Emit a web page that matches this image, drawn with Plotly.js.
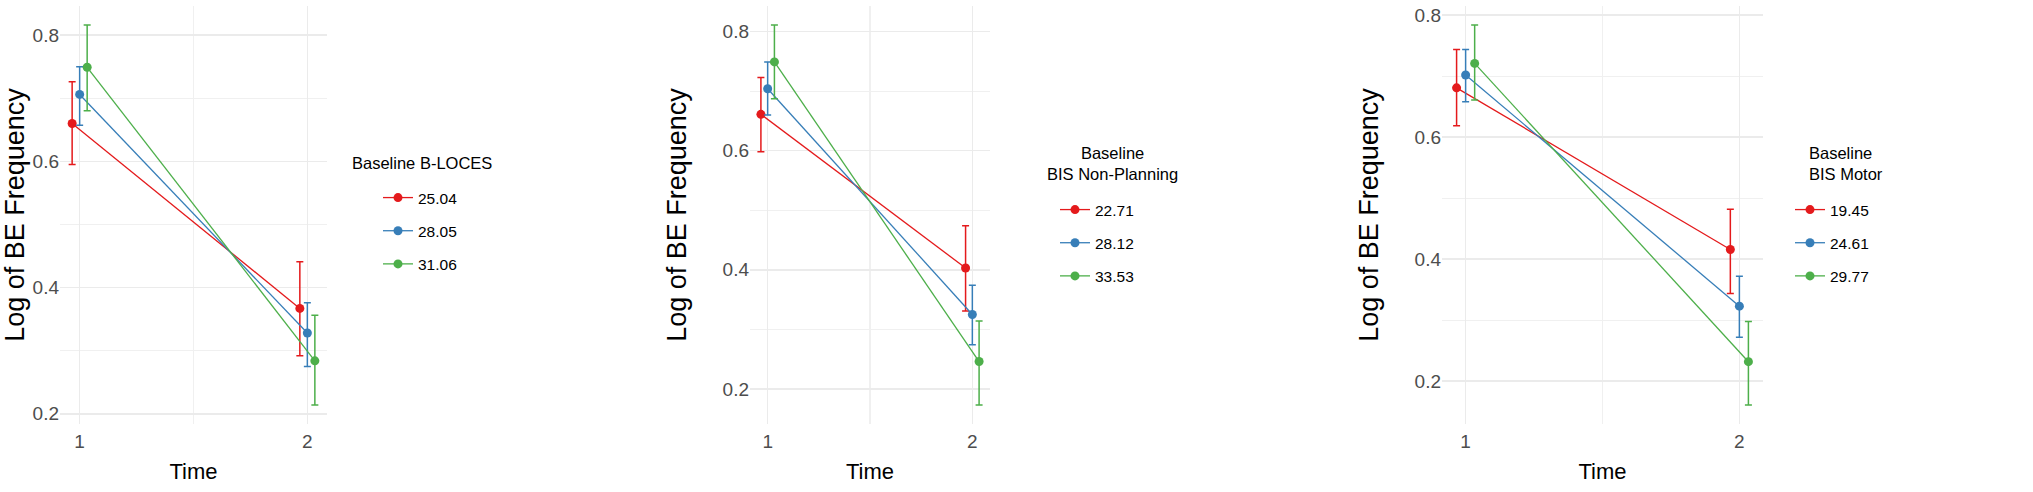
<!DOCTYPE html>
<html>
<head>
<meta charset="utf-8">
<script src="https://cdn.plot.ly/plotly-3.0.1.min.js"></script>
<style>html,body{margin:0;padding:0;background:#fff;}#chart{width:2033px;height:492px;}</style>
</head>
<body>
<div id="chart"></div>
<script>
// ---- data ----
const times = [1, 2];
const seriesColors = ["#E41A1C", "#377EB8", "#4DAF4A"];

const p1Title = "Baseline B-LOCES";
const p1Levels = ["25.04", "28.05", "31.06"];
const p1Mean  = [[0.660, 0.367], [0.706, 0.328], [0.749, 0.284]];
const p1Upper = [[0.726, 0.441], [0.750, 0.376], [0.816, 0.356]];
const p1Lower = [[0.595, 0.292], [0.657, 0.275], [0.680, 0.214]];

const p2Title = "Baseline<br>BIS Non-Planning";
const p2Levels = ["22.71", "28.12", "33.53"];
const p2Mean  = [[0.661, 0.403], [0.704, 0.325], [0.749, 0.246]];
const p2Upper = [[0.723, 0.474], [0.749, 0.374], [0.811, 0.314]];
const p2Lower = [[0.598, 0.331], [0.660, 0.274], [0.687, 0.173]];

const p3Title = "Baseline<br>BIS Motor";
const p3Levels = ["19.45", "24.61", "29.77"];
const p3Mean  = [[0.681, 0.416], [0.702, 0.323], [0.721, 0.232]];
const p3Upper = [[0.744, 0.482], [0.744, 0.372], [0.784, 0.298]];
const p3Lower = [[0.619, 0.344], [0.658, 0.272], [0.661, 0.161]];

const tickVals = [0.2, 0.4, 0.6, 0.8];
const xTicks = [1, 2];
const yTitle = "Log of BE Frequency";
const xTitle = "Time";

// ---- build ----
const W = 2033, H = 492;
const FONT = "Liberation Sans, Arial, sans-serif";
const dodge = [-0.033, 0, 0.033];

const panels = [
  {title: p1Title, levels: p1Levels, mean: p1Mean, up: p1Upper, lo: p1Lower, px: [60, 327], legX: 378, titleX: 350, titleAnchor: "left", titleY: 163, legY: 181},
  {title: p2Title, levels: p2Levels, mean: p2Mean, up: p2Upper, lo: p2Lower, px: [750, 990], legX: 1055, titleX: 1112, titleAnchor: "center", titleY: 163, legY: 193},
  {title: p3Title, levels: p3Levels, mean: p3Mean, up: p3Upper, lo: p3Lower, px: [1442, 1763], legX: 1790, titleX: 1807, titleAnchor: "left", titleY: 163, legY: 193}
];

const traces = [];
const layout = {
  width: W, height: H,
  margin: {l: 0, r: 0, t: 0, b: 0},
  paper_bgcolor: "#fff", plot_bgcolor: "#fff",
  showlegend: true,
  annotations: []
};
const yDom = [1 - 424 / H, 1 - 6 / H];

panels.forEach((p, i) => {
  const n = i === 0 ? "" : String(i + 1);
  const xa = "x" + n, ya = "y" + n;
  const leg = "legend" + n;
  let ymin = Infinity, ymax = -Infinity;
  p.levels.forEach((lev, k) => {
    const xs = times.map(t => t + dodge[k]);
    p.lo[k].forEach(v => ymin = Math.min(ymin, v));
    p.up[k].forEach(v => ymax = Math.max(ymax, v));
    traces.push({
      type: "scatter", mode: "lines+markers",
      x: xs, y: p.mean[k], xaxis: xa, yaxis: ya,
      name: lev, legend: leg, legendgroup: "p" + i + "_" + k,
      line: {color: seriesColors[k], width: 1.3},
      marker: {color: seriesColors[k], size: 9},
      error_y: {type: "data", symmetric: false,
        array: p.up[k].map((u, j) => u - p.mean[k][j]),
        arrayminus: p.mean[k].map((m, j) => m - p.lo[k][j]),
        color: seriesColors[k], thickness: 1.5, width: 3.5},
      hoverinfo: "x+y+name"
    });
  });
  const ySpan = ymax - ymin;
  const xlo = times[0] + dodge[0], xhi = times[1] + dodge[2];
  const xSpan = xhi - xlo;
  layout["xaxis" + n] = {
    domain: [p.px[0] / W, p.px[1] / W], anchor: ya,
    range: [xlo - 0.05 * xSpan, xhi + 0.05 * xSpan],
    tickvals: xTicks, ticktext: xTicks.map(String),
    showgrid: true, gridcolor: "#ebebeb", gridwidth: 1.6,
    minor: {dtick: 0.5, tick0: 1, showgrid: true, gridcolor: "#f0f0f0", gridwidth: 1.2},
    zeroline: false, showline: false, ticks: "",
    ticklabelstandoff: 4,
    tickfont: {family: FONT, size: 19, color: "#4d4d4d"},
    title: {text: xTitle, font: {family: FONT, size: 22, color: "#000"}, standoff: 12},
    fixedrange: true
  };
  layout["yaxis" + n] = {
    domain: yDom, anchor: xa,
    range: [ymin - 0.05 * ySpan, ymax + 0.05 * ySpan],
    tickvals: tickVals, ticktext: tickVals.map(v => v.toFixed(1)),
    showgrid: true, gridcolor: "#ebebeb", gridwidth: 1.6,
    minor: {dtick: 0.1, tick0: 0.1, showgrid: true, gridcolor: "#f0f0f0", gridwidth: 1.2},
    zeroline: false, showline: false, ticks: "",
    tickfont: {family: FONT, size: 19, color: "#4d4d4d"},
    title: {text: yTitle, font: {family: FONT, size: 27, color: "#000"}},
    fixedrange: true
  };
  layout[leg] = {
    x: p.legX / W, xanchor: "left",
    y: 1 - p.legY / H, yanchor: "top",
    traceorder: "grouped", tracegroupgap: 10,
    font: {family: FONT, size: 15.5, color: "#000"},
    bgcolor: "rgba(0,0,0,0)", borderwidth: 0
  };
  layout.annotations.push({
    xref: "paper", yref: "paper",
    x: p.titleX / W, y: 1 - p.titleY / H,
    xanchor: p.titleAnchor, yanchor: "middle",
    align: p.titleAnchor,
    text: p.title, showarrow: false,
    font: {family: FONT, size: 16.5, color: "#000"}
  });
});

Plotly.newPlot("chart", traces, layout, {displayModeBar: false, staticPlot: true});
</script>
</body>
</html>
